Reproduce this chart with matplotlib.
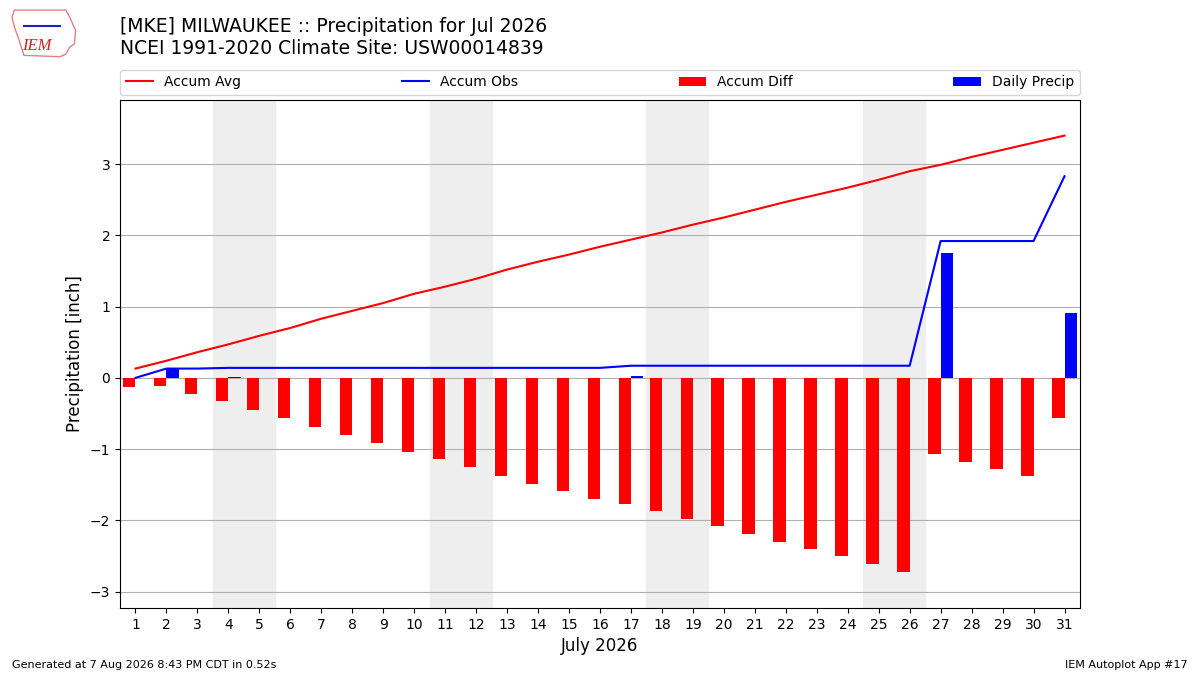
import matplotlib
matplotlib.use("Agg")
import matplotlib.pyplot as plt
import numpy as np

# July 2026 daily data, MKE
days = list(range(1, 32))
daily_precip = [0.00, 0.13, 0.00, 0.01, 0.00, 0.00, 0.00, 0.00, 0.00, 0.00,
                0.00, 0.00, 0.00, 0.00, 0.00, 0.00, 0.03, 0.00, 0.00, 0.00,
                0.00, 0.00, 0.00, 0.00, 0.00, 0.00, 1.75, 0.00, 0.00, 0.00,
                0.91]
accum_avg = [0.13, 0.24, 0.36, 0.47, 0.59, 0.70, 0.83, 0.94, 1.05, 1.18,
             1.28, 1.39, 1.52, 1.63, 1.73, 1.84, 1.94, 2.04, 2.15, 2.25,
             2.36, 2.47, 2.57, 2.67, 2.78, 2.90, 2.99, 3.10, 3.20, 3.30,
             3.40]
weekends = [(4, 5), (11, 12), (18, 19), (25, 26)]

accum_obs = np.cumsum(daily_precip)
accum_diff = accum_obs - np.array(accum_avg)

fig = plt.figure(figsize=(12, 6.75), dpi=100)
ax = fig.add_axes([0.1, 0.0993, 0.8, 0.7526])

for start, end in weekends:
    ax.axvspan(start - 0.5, end + 0.5, color="#eeeeee", zorder=0)

ax.plot(days, accum_avg, color="r", lw=1.5, label="Accum Avg", zorder=3)
ax.plot(days, accum_obs, color="b", lw=1.5, label="Accum Obs", zorder=3)
ax.bar(days, accum_diff, width=-0.4, align="edge", color="r",
       label="Accum Diff", zorder=2)
ax.bar(days, daily_precip, width=0.4, align="edge", color="b",
       label="Daily Precip", zorder=2)

ax.set_xlim(0.5, 31.5)
ax.set_ylim(-3.23, 3.9)
ax.set_xticks(days)
ax.set_yticks(range(-3, 4))
ax.grid(axis="y", color="#b0b0b0", zorder=1)
ax.set_axisbelow(True)
ax.set_ylabel("Precipitation [inch]", fontsize=12)
ax.set_xlabel("July 2026", fontsize=12)

ax.legend(bbox_to_anchor=(0, 1.01, 1, 0.05), loc="lower left", ncol=4,
          mode="expand", borderaxespad=0, fontsize=10)

fig.text(0.1, 0.975, "[MKE] MILWAUKEE :: Precipitation for Jul 2026\n"
         "NCEI 1991-2020 Climate Site: USW00014839",
         fontsize=13.5, va="top", ha="left")

# rough IEM logo
logo_x = [0.012, 0.055, 0.058, 0.063, 0.062, 0.058, 0.055, 0.05, 0.02, 0.016, 0.012, 0.01]
logo_y = [0.985, 0.985, 0.975, 0.955, 0.935, 0.93, 0.92, 0.916, 0.918, 0.94, 0.96, 0.975]
fig.add_artist(plt.Polygon(list(zip(logo_x, logo_y)), closed=True, fill=False,
                           edgecolor="#e08080", lw=1, transform=fig.transFigure))
fig.text(0.031, 0.932, "IEM", color="#d02020", fontsize=12, style="italic",
         family="Liberation Serif", ha="center", va="center")
fig.add_artist(plt.Line2D([0.02, 0.05], [0.962, 0.962], color="#2020c0", lw=1.5,
                          transform=fig.transFigure))

fig.text(0.01, 0.01, "Generated at 7 Aug 2026 8:43 PM CDT in 0.52s", fontsize=8)
fig.text(0.99, 0.01, "IEM Autoplot App #17", fontsize=8, ha="right")

fig.savefig("out.png")
